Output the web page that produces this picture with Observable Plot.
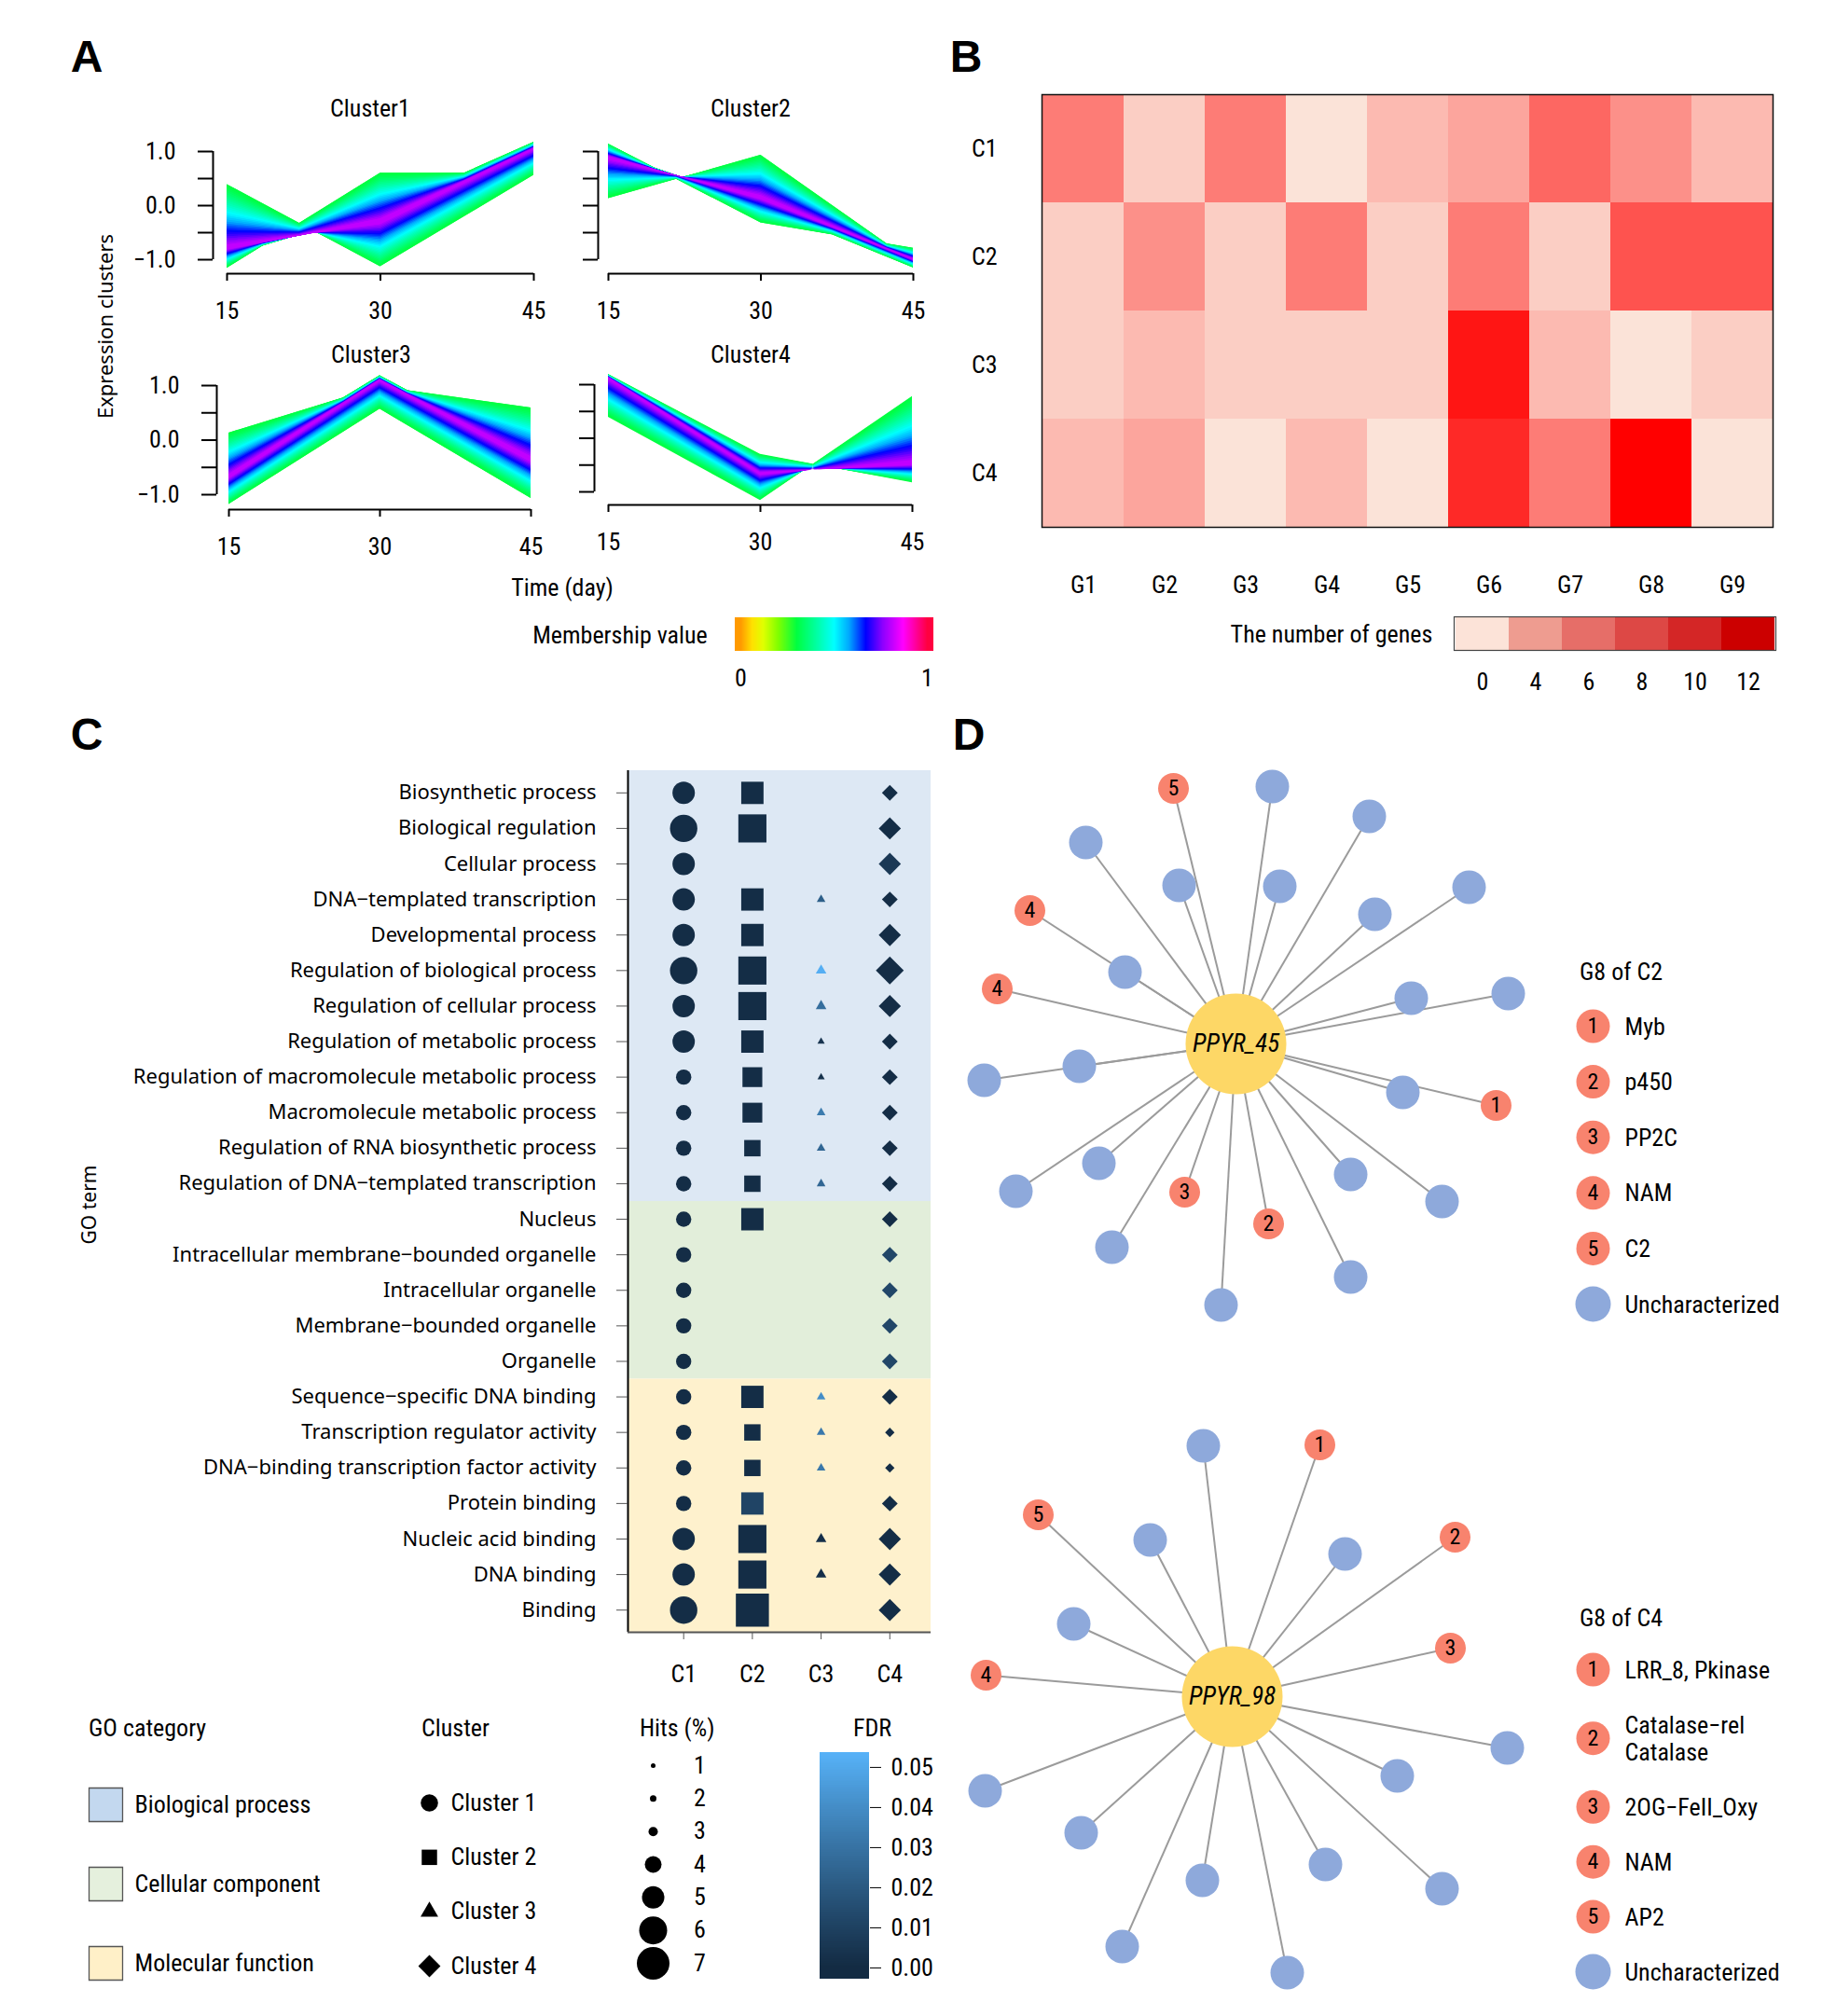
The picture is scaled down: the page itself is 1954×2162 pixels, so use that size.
<!DOCTYPE html>
<html>
<head>
<meta charset="utf-8">
<script src="https://cdn.jsdelivr.net/npm/d3@7"></script>
<script src="https://cdn.jsdelivr.net/npm/@observablehq/plot@0.6"></script>
<style>
  body { margin: 0; background: #fff; }
  #root { position: relative; width: 1954px; height: 2162px; overflow: hidden; background: #fff; color: #000; }
  #root svg { position: absolute; overflow: visible; }
  .lbl { position: absolute; white-space: nowrap; line-height: 1; }
</style>
</head>
<body>
<div id="root"></div>
<script>
// ======================= DATA =======================
// ---- Panel A : fuzzy clusters (time course) ----
const times = [15, 30, 45];
const clusterTitles = ["Cluster1", "Cluster2", "Cluster3", "Cluster4"];
// centre (highest membership) profile of each cluster
const clusterCenters = [
  [-0.80, -0.30, 1.05],
  [0.89, 0.14, -1.00],
  [-0.68, 1.10, -0.36],
  [1.13, -0.66, -0.49]
];
// extreme (lowest membership) profiles bounding each cluster band
const clusterExtremes = [
  [[0.39, -1.13, 0.56], [-1.16, 0.60, 0.60], [-0.95, -0.09, 1.17]],
  [[1.14, -0.32, -0.79], [0.13, 0.93, -1.05], [1.00, 0.00, -1.15]],
  [[0.13, 0.98, 0.59], [-1.18, 0.57, -1.07], [-0.50, 1.18, -0.30]],
  [[1.19, -0.30, -0.83], [0.39, -1.16, 0.78]]
];
const yTicksA = [-1, -0.5, 0, 0.5, 1];
const membershipStops = [0, 0.06, 0.12, 0.2, 0.3, 0.42, 0.5, 0.58, 0.67, 0.76, 0.87, 1];
const membershipTicks = [0, 1];

// ---- Panel B : heatmap ----
const geneGroups = ["G1", "G2", "G3", "G4", "G5", "G6", "G7", "G8", "G9"];
const fuzzyClusters = ["C1", "C2", "C3", "C4"];
const geneCountsC1 = [6, 2, 6, 1, 3, 4, 7, 5, 3];
const geneCountsC2 = [2, 5, 2, 6, 2, 6, 2, 8, 8];
const geneCountsC3 = [2, 3, 2, 2, 2, 11, 3, 1, 2];
const geneCountsC4 = [3, 4, 1, 3, 1, 10, 6, 12, 1];
const countLegendLabels = ["0", "4", "6", "8", "10", "12"];

// ---- Panel C : GO enrichment ----
const goTerms = [
  "Biosynthetic process", "Biological regulation", "Cellular process",
  "DNA\u2212templated transcription", "Developmental process",
  "Regulation of biological process", "Regulation of cellular process",
  "Regulation of metabolic process", "Regulation of macromolecule metabolic process",
  "Macromolecule metabolic process", "Regulation of RNA biosynthetic process",
  "Regulation of DNA\u2212templated transcription",
  "Nucleus", "Intracellular membrane\u2212bounded organelle", "Intracellular organelle",
  "Membrane\u2212bounded organelle", "Organelle",
  "Sequence\u2212specific DNA binding", "Transcription regulator activity",
  "DNA\u2212binding transcription factor activity", "Protein binding",
  "Nucleic acid binding", "DNA binding", "Binding"
];
const goCategoryNames = ["Biological process", "Cellular component", "Molecular function"];
const goCategory = [
  ...Array(12).fill("Biological process"),
  ...Array(5).fill("Cellular component"),
  ...Array(7).fill("Molecular function")
];
const goClusters = ["C1", "C2", "C3", "C4"];
const goClusterNames = ["Cluster 1", "Cluster 2", "Cluster 3", "Cluster 4"];
const hitsC1 = [5.0, 5.9, 5.0, 5.0, 5.0, 5.9, 5.0, 5.0, 3.8, 3.8, 3.8, 3.8, 3.8, 3.8, 3.8, 3.8, 3.8, 3.8, 3.8, 3.8, 3.8, 5.0, 5.0, 5.9];
const hitsC2 = [5.5, 6.8, null, 5.5, 5.5, 6.8, 6.8, 5.5, 5.0, 5.0, 4.3, 4.3, 5.5, null, null, null, null, 5.5, 4.3, 4.3, 5.5, 6.8, 6.8, 8.0];
const hitsC3 = [null, null, null, 1.6, null, 2.2, 2.2, 1.1, 1.1, 1.6, 1.6, 1.6, null, null, null, null, null, 1.6, 1.6, 1.6, null, 2.2, 2.2, null];
const hitsC4 = [3.4, 4.1, 4.1, 3.4, 4.1, 4.9, 4.1, 3.4, 3.4, 3.4, 3.4, 3.4, 3.4, 3.4, 3.4, 3.4, 3.4, 3.4, 2.3, 2.3, 3.4, 4.1, 4.1, 4.1];
const fdrC1 = Array(24).fill(0.001);
const fdrC2 = [0.001, 0.001, null, 0.001, 0.001, 0.001, 0.001, 0.001, 0.001, 0.001, 0.001, 0.001, 0.001, null, null, null, null, 0.001, 0.001, 0.001, 0.011, 0.001, 0.001, 0.001];
const fdrC3 = [null, null, null, 0.022, null, 0.052, 0.028, 0.004, 0.003, 0.033, 0.025, 0.025, null, null, null, null, null, 0.040, 0.032, 0.032, null, 0.002, 0.002, null];
const fdrC4 = [0.001, 0.001, 0.006, 0.001, 0.001, 0.001, 0.001, 0.001, 0.001, 0.001, 0.001, 0.001, 0.001, 0.012, 0.012, 0.012, 0.012, 0.001, 0.001, 0.001, 0.001, 0.001, 0.001, 0.001];
const hitsLegendValues = [1, 2, 3, 4, 5, 6, 7];
const fdrTicks = [0, 0.01, 0.02, 0.03, 0.04, 0.05];
const fdrBarRange = [-0.0028, 0.0537];

// ---- Panel D : co-expression networks ----
const net1Hub = "PPYR_45";
const net1Title = "G8 of C2";
const net1Annotated = [["5", -67, -274], ["4", -221, -143], ["4", -256, -59], ["3", -55, 159], ["2", 35, 193], ["1", 279, 66]];
const net1Uncharacterized = [[39, -276], [143, -244], [-161, -216], [-61, -170], [47, -169], [250, -168], [149, -139],
  [-119, -77], [188, -49], [292, -54], [-168, 24], [-270, 39], [179, 52], [-147, 128], [-236, 158], [123, 140],
  [221, 169], [-133, 218], [123, 250], [-16, 280]];
const net1Legend = [["1", "Myb"], ["2", "p450"], ["3", "PP2C"], ["4", "NAM"], ["5", "C2"], ["", "Uncharacterized"]];

const net2Hub = "PPYR_98";
const net2Title = "G8 of C4";
const net2Annotated = [["1", 94, -270], ["5", -208, -195], ["2", 239, -171], ["3", 234, -52], ["4", -264, -23]];
const net2Uncharacterized = [[-31, -269], [-88, -168], [121, -153], [-170, -78], [295, 55], [177, 85], [-265, 101],
  [-162, 146], [100, 180], [-32, 197], [225, 206], [-118, 268], [59, 296]];
const net2Legend = [["1", "LRR_8, Pkinase"], ["2", "Catalase\u2212rel\nCatalase"], ["3", "2OG\u2212FeII_Oxy"], ["4", "NAM"], ["5", "AP2"], ["", "Uncharacterized"]];

// ======================= STYLE =======================
const NARROW = '"Liberation Sans Narrow","Arial Narrow","Roboto Condensed","DejaVu Sans Condensed",sans-serif';
const WIDE = '"Noto Sans","Open Sans",sans-serif';
const BOLD = '"Liberation Sans",Arial,sans-serif';
const FS = 26; // main narrow font size
const membershipColors = ["#FF9A00", "#FFE000", "#E0FF00", "#80FF00", "#00FF40", "#00FFB0", "#00FFFF", "#00A8FF", "#0000FF", "#8C00FF", "#FF00FF", "#FF0040"];
const countLegendColors = ["#FCE3D8", "#EE9C90", "#E66E68", "#DD4845", "#D42626", "#CC0000"];
const goBandColors = {"Biological process": "#DDE8F4", "Cellular component": "#E2EEDA", "Molecular function": "#FEF1CD"};
const goLegendColors = {"Biological process": "#C3D8EF", "Cellular component": "#E5F0DD", "Molecular function": "#FFF0C8"};
// ggplot-like filled shapes (area of each shape follows the r scale)
const diamondShape = {draw(ctx, size) {
  const h = Math.sqrt(size / Math.PI) * 1.28;
  ctx.moveTo(0, -h); ctx.lineTo(h, 0); ctx.lineTo(0, h); ctx.lineTo(-h, 0); ctx.closePath();
}};
const triangleShape = {draw(ctx, size) {
  const a = Math.sqrt(size / Math.PI) * 3.0, t = a * Math.sqrt(3) / 2;
  ctx.moveTo(0, -2 * t / 3); ctx.lineTo(a / 2, t / 3); ctx.lineTo(-a / 2, t / 3); ctx.closePath();
}};
const clusterSymbols = ["circle", "square", triangleShape, diamondShape];
const hitsRadii = [2.5, 3.5, 5, 9, 12, 15, 17.5];
const annotatedFill = "#F8836E", uncharFill = "#8EA9DB", hubFill = "#FDD766", edgeStroke = "#9B9B9B";
const noAxis = {axis: null, label: null};

const root = document.getElementById("root");
function place(svg, left, top) {
  svg.style.left = left + "px";
  svg.style.top = top + "px";
  root.appendChild(svg);
}
function label(text, x, y, o = {}) {
  const d = document.createElement("div");
  d.className = "lbl";
  d.textContent = text;
  d.style.fontSize = (o.size || FS) + "px";
  d.style.fontFamily = o.family || NARROW;
  d.style.fontWeight = o.weight || "normal";
  d.style.fontStyle = o.style || "normal";
  d.style.left = x + "px";
  d.style.top = y + "px";
  const tx = o.anchor === "start" ? "0" : o.anchor === "end" ? "-100%" : "-50%";
  d.style.transform = `translate(${tx},-50%)` + (o.rotate ? ` rotate(${o.rotate}deg)` : "");
  root.appendChild(d);
}
const baseStyle = (family) => ({fontFamily: family || NARROW, fontSize: FS + "px", overflow: "visible", background: "transparent", color: "#000"});

// ======================= PANEL A =======================
const membershipScale = {type: "linear", domain: membershipStops, range: membershipColors, interpolate: "rgb", clamp: true};
const layoutA = [
  {left: 160, top: 100, w: 440, h: 260, dx: -15, dy: 15},
  {left: 569, top: 100, w: 438, h: 260, dx: -11, dy: 15},
  {left: 162, top: 351, w: 435, h: 261, dx: -13, dy: 16},
  {left: 569, top: 350, w: 437, h: 259, dx: -15, dy: 14}
];
function clusterPlot(ci) {
  const L = layoutA[ci];
  const center = clusterCenters[ci], ext = clusterExtremes[ci];
  const rows = [];
  const levels = 30;
  for (let k = 0; k < levels; k++) {
    const f = 1 - 0.94 * k / (levels - 1);
    const m = 0.30 + 0.55 * Math.pow(1 - f, 1.2);
    for (let a = 0; a < ext.length; a++)
      for (let b = a + 1; b < ext.length; b++)
        times.forEach((t, ti) => rows.push({
          key: k + "-" + a + "-" + b, t, m,
          y1: center[ti] + f * (ext[a][ti] - center[ti]),
          y2: center[ti] + f * (ext[b][ti] - center[ti])
        }));
  }
  const showLabels = ci % 2 === 0;
  const fmt = d => (showLabels && Number.isInteger(d)) ? (d < 0 ? "\u2212" : "") + Math.abs(d).toFixed(1) : "";
  return Plot.plot({
    width: L.w, height: L.h,
    marginLeft: 83, marginRight: 28, marginTop: 62, marginBottom: 82,
    x: {domain: [15, 45], label: null},
    y: {domain: [-1, 1], label: null},
    color: membershipScale,
    style: baseStyle(),
    marks: [
      Plot.areaY(rows, {x: "t", y1: "y1", y2: "y2", z: "key", fill: "m"}),
      Plot.ruleX([15], {y1: -1, y2: 1, dx: L.dx, stroke: "#000", strokeWidth: 2}),
      Plot.axisY(yTicksA, {tickSize: 16, dx: L.dx, tickPadding: 24, strokeWidth: 2, fontSize: FS, label: null, tickFormat: fmt}),
      Plot.ruleY([-1], {x1: 15, x2: 45, dy: L.dy, stroke: "#000", strokeWidth: 2}),
      Plot.axisX(times, {tickSize: 8, dy: L.dy, tickPadding: 22, strokeWidth: 2, fontSize: FS, label: null})
    ]
  });
}
for (let i = 0; i < 4; i++) place(clusterPlot(i), layoutA[i].left, layoutA[i].top);
label(clusterTitles[0], 397, 116);
label(clusterTitles[1], 805, 116);
label(clusterTitles[2], 398, 380);
label(clusterTitles[3], 805, 380);
label("Expression clusters", 112, 350, {rotate: -90, family: WIDE, size: 22});
label("Time (day)", 603, 630);
label("Membership value", 665, 681);
{
  const ramp = d3.range(-0.03, 1.035, 0.005);
  const svg = Plot.plot({
    width: 250, height: 100, marginLeft: 18, marginRight: 19, marginTop: 12, marginBottom: 52,
    x: {domain: [-0.03, 1.035], label: null}, y: {domain: [0, 1], ...noAxis},
    color: membershipScale, style: baseStyle(),
    marks: [
      Plot.rect(ramp, {x1: d => d, x2: d => d + 0.0055, y1: 0, y2: 1, fill: d => d, shapeRendering: "crispEdges"}),
      Plot.axisX(membershipTicks, {tickSize: 0, tickPadding: 19, fontSize: FS, label: null, tickFormat: d => String(d)})
    ]
  });
  place(svg, 770, 650);
}

// ======================= PANEL B =======================
{
  const counts = [geneCountsC1, geneCountsC2, geneCountsC3, geneCountsC4];
  const cells = [];
  fuzzyClusters.forEach((c, ci) => geneGroups.forEach((g, gi) => cells.push({c, g, v: counts[ci][gi]})));
  const svg = Plot.plot({
    width: 880, height: 560, marginLeft: 77, marginRight: 19, marginTop: 11, marginBottom: 85,
    x: {domain: geneGroups, padding: 0, label: null},
    y: {domain: fuzzyClusters, padding: 0, label: null},
    color: {type: "linear", domain: [1, 12], range: ["#FBE3D8", "#FF0000"], interpolate: "rgb", clamp: true},
    style: baseStyle(),
    marks: [
      Plot.cell(cells, {x: "g", y: "c", fill: "v"}),
      Plot.frame({stroke: "#111", strokeWidth: 1.5}),
      Plot.axisX({tickSize: 0, tickPadding: 52, fontSize: FS, label: null}),
      Plot.axisY({tickSize: 0, tickPadding: 48, fontSize: FS, label: null})
    ]
  });
  place(svg, 1040, 90);
  const leg = Plot.plot({
    width: 400, height: 97, marginLeft: 19, marginRight: 36, marginTop: 11, marginBottom: 50,
    x: {domain: countLegendLabels, padding: 0, label: null}, y: {domain: [0, 1], ...noAxis},
    style: baseStyle(),
    marks: [
      ...countLegendLabels.map((l, i) => Plot.rect([l], {x: d => d, y1: 0, y2: 1, fill: countLegendColors[i]})),
      Plot.frame({stroke: "#444", strokeWidth: 1.2}),
      Plot.axisX({tickSize: 0, tickPadding: 24, fontSize: FS, label: null})
    ]
  });
  place(leg, 1540, 650);
  label("The number of genes", 1428, 680);
}

// ======================= PANEL C =======================
const hitsScale = {type: "linear", domain: hitsLegendValues, range: hitsRadii};
const fdrScale = {type: "linear", domain: [0, 0.053], range: ["#132B43", "#56B1F7"], interpolate: "lab", clamp: true};
{
  const yDom = [0.375, goTerms.length + 0.625];
  const xDom = [0.19, 4.6];
  const allHits = [hitsC1, hitsC2, hitsC3, hitsC4];
  const allFdr = [fdrC1, fdrC2, fdrC3, fdrC4];
  const rowsFor = c => goTerms.map((t, i) => ({term: t, idx: i + 1, cluster: c + 1, hits: allHits[c][i], fdr: allFdr[c][i]}))
    .filter(d => d.hits != null);
  const bands = goCategoryNames.map(cat => {
    const idx = goCategory.map((c, i) => c === cat ? i + 1 : null).filter(v => v != null);
    return {cat, y1: d3.min(idx) - 0.5, y2: d3.max(idx) + 0.5};
  });
  bands[0].y1 = yDom[0];
  bands[bands.length - 1].y2 = yDom[1];
  const svg = Plot.plot({
    width: 920, height: 1000, marginLeft: 573, marginRight: 22, marginTop: 11, marginBottom: 65,
    x: {domain: xDom, label: null},
    y: {domain: yDom, reverse: true, label: null},
    r: hitsScale, color: fdrScale,
    style: baseStyle(),
    marks: [
      ...bands.map(b => Plot.rect([b], {x1: xDom[0], x2: xDom[1], y1: "y1", y2: "y2", fill: goBandColors[b.cat]})),
      ...[0, 1, 2, 3].map(c => Plot.dot(rowsFor(c), {x: "cluster", y: "idx", r: "hits", fill: "fdr", symbol: clusterSymbols[c]})),
      Plot.ruleX([xDom[0]], {stroke: "#000", strokeWidth: 2}),
      Plot.ruleY([yDom[1]], {stroke: "#555", strokeWidth: 2}),
      Plot.axisY(d3.range(1, goTerms.length + 1), {tickFormat: i => goTerms[i - 1], tickSize: 12, tickPadding: 22,
        fontSize: 22, fontFamily: WIDE, stroke: "#555", label: null}),
      Plot.axisX([1, 2, 3, 4], {tickFormat: i => goClusters[i - 1], tickSize: 8, tickPadding: 27, fontSize: FS,
        stroke: "#555", label: null})
    ]
  });
  place(svg, 100, 815);
  label("GO term", 95, 1292, {rotate: -90, family: WIDE, size: 21});

  // legend headings
  label("GO category", 95, 1853, {anchor: "start"});
  label("Cluster", 452, 1853, {anchor: "start"});
  label("Hits (%)", 686, 1853, {anchor: "start"});
  label("FDR", 915, 1853, {anchor: "start"});

  // GO category legend
  const goLeg = Plot.plot({
    width: 300, height: 240, marginLeft: 33, marginRight: 20, marginTop: 35, marginBottom: 35,
    x: {domain: [0, 1], ...noAxis}, y: {domain: [1, 3], reverse: true, ...noAxis},
    style: baseStyle(),
    marks: [
      ...goCategoryNames.map((cat, i) => Plot.dot([i + 1], {x: 0, y: d => d, symbol: "square", r: 20.3,
        fill: goLegendColors[cat], stroke: "#555", strokeWidth: 1.3})),
      Plot.text(goCategoryNames, {x: 0, y: (d, i) => i + 1, text: d => d, dx: 31, textAnchor: "start", fontSize: FS})
    ]
  });
  place(goLeg, 80, 1900);

  // Cluster shape legend
  const clLeg = Plot.plot({
    width: 150, height: 240, marginLeft: 20, marginRight: 20, marginTop: 33, marginBottom: 32,
    x: {domain: [0, 1], ...noAxis}, y: {domain: [1, 4], reverse: true, ...noAxis},
    style: baseStyle(),
    marks: [
      ...goClusterNames.map((n, i) => Plot.dot([i + 1], {x: 0, y: d => d, symbol: clusterSymbols[i],
        r: i === 2 ? 6.3 : 9.3, fill: "#000"})),
      Plot.text(goClusterNames, {x: 0, y: (d, i) => i + 1, text: d => d, dx: 23, textAnchor: "start", fontSize: FS})
    ]
  });
  place(clLeg, 440, 1900);

  // Hits legend
  const hitsLeg = Plot.plot({
    width: 150, height: 260, marginLeft: 50, marginRight: 50, marginTop: 23, marginBottom: 25,
    x: {domain: [0, 1], ...noAxis}, y: {domain: [1, 7], reverse: true, ...noAxis},
    r: hitsScale, style: baseStyle(),
    marks: [
      Plot.dot(hitsLegendValues, {x: 0, y: d => d, r: d => d, fill: "#000"}),
      Plot.text(hitsLegendValues, {x: 0, y: d => d, text: d => String(d), dx: 50, fontSize: FS})
    ]
  });
  place(hitsLeg, 650, 1870);

  // FDR colour bar
  const step = 0.0004;
  const ramp = d3.range(fdrBarRange[0], fdrBarRange[1], step);
  const fdrLeg = Plot.plot({
    width: 140, height: 280, marginLeft: 19, marginRight: 68, marginTop: 19, marginBottom: 18,
    x: {domain: [0, 1], ...noAxis}, y: {domain: fdrBarRange, label: null},
    color: fdrScale, style: baseStyle(),
    marks: [
      Plot.rect(ramp, {x1: 0, x2: 1, y1: d => d, y2: d => Math.min(d + step * 1.1, fdrBarRange[1]), fill: d => d, shapeRendering: "crispEdges"}),
      Plot.axisY(fdrTicks, {anchor: "right", tickSize: 12, tickPadding: 11, tickFormat: d => d.toFixed(2), fontSize: FS, label: null})
    ]
  });
  place(fdrLeg, 860, 1860);
}

// ======================= PANEL D =======================
function networkPlot(annotated, unchar, hub, L) {
  const ann = annotated.map(([label, x, y]) => ({label, x, y}));
  const unc = unchar.map(([x, y]) => ({x, y}));
  return Plot.plot({
    width: L.w, height: L.h, marginLeft: 0, marginRight: 0, marginTop: 0, marginBottom: 0,
    x: {domain: L.xd, ...noAxis}, y: {domain: L.yd, reverse: true, ...noAxis},
    style: baseStyle(),
    marks: [
      Plot.link([...ann, ...unc], {x1: 0, y1: 0, x2: "x", y2: "y", stroke: edgeStroke, strokeWidth: 2}),
      Plot.dot(unc, {x: "x", y: "y", r: 18, fill: uncharFill}),
      Plot.dot(ann, {x: "x", y: "y", r: 16.5, fill: annotatedFill}),
      Plot.text(ann, {x: "x", y: "y", text: "label", fontSize: 24, fill: "#000"}),
      Plot.dot([hub], {x: 0, y: 0, r: 54, fill: hubFill}),
      Plot.text([hub], {x: 0, y: 0, text: d => d, fontSize: 27, fontStyle: "italic", fill: "#000"})
    ]
  });
}
function networkLegend(items, L) {
  let acc = 0;
  const rows = items.map(([num, name]) => {
    const h = 2 + (name.split("\n").length - 1);
    const u = acc + h / 2;
    acc += h;
    return {num, name, u, unchar: num === ""};
  });
  return Plot.plot({
    width: 270, height: L.h, marginLeft: 28, marginRight: 20, marginTop: 30, marginBottom: L.mb,
    x: {domain: [0, 1], ...noAxis}, y: {domain: [rows[0].u, rows[rows.length - 1].u], reverse: true, ...noAxis},
    style: baseStyle(),
    marks: [
      Plot.dot(rows.filter(d => !d.unchar), {x: 0, y: "u", r: 18, fill: annotatedFill}),
      Plot.dot(rows.filter(d => d.unchar), {x: 0, y: "u", r: 19, fill: uncharFill}),
      Plot.text(rows, {x: 0, y: "u", text: "num", fontSize: 24}),
      Plot.text(rows, {x: 0, y: "u", text: "name", dx: 34, textAnchor: "start", fontSize: FS, lineHeight: 1.1})
    ]
  });
}
place(networkPlot(net1Annotated, net1Uncharacterized, net1Hub, {w: 620, h: 620, xd: [-295, 325], yd: [-319, 301]}), 1030, 800);
place(networkPlot(net2Annotated, net2Uncharacterized, net2Hub, {w: 620, h: 650, xd: [-291, 329], yd: [-319, 331]}), 1030, 1500);
place(networkLegend(net1Legend, {h: 360, mb: 32}), 1680, 1070);
place(networkLegend(net2Legend, {h: 390, mb: 36}), 1680, 1760);
label(net1Title, 1694, 1042, {anchor: "start"});
label(net2Title, 1694, 1735, {anchor: "start"});

// ======================= PANEL LETTERS =======================
label("A", 93, 61, {family: BOLD, weight: "bold", size: 48});
label("B", 1036, 61, {family: BOLD, weight: "bold", size: 48});
label("C", 93, 788, {family: BOLD, weight: "bold", size: 48});
label("D", 1039, 788, {family: BOLD, weight: "bold", size: 48});
</script>
</body>
</html>
